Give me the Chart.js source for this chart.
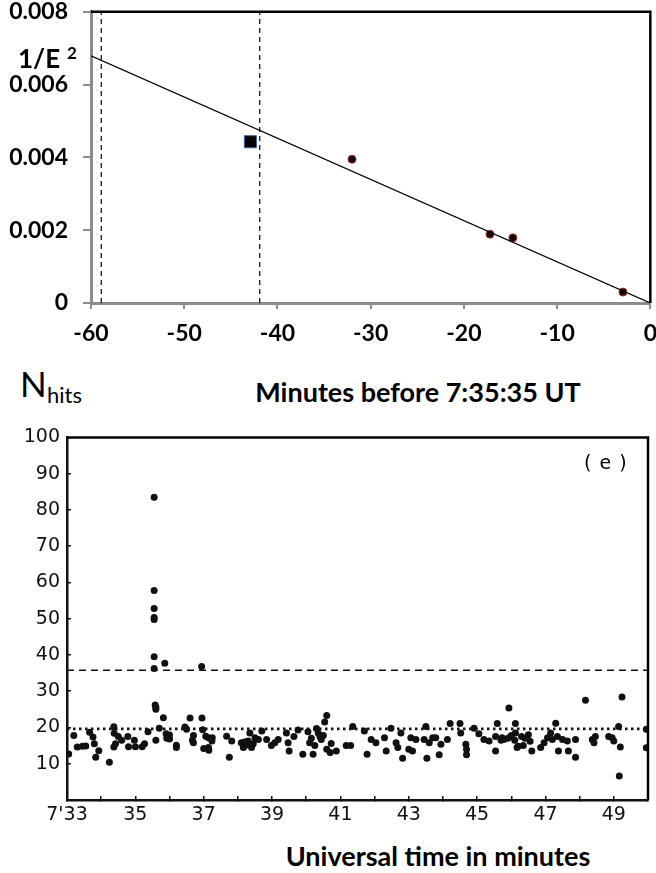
<!DOCTYPE html>
<html>
<head>
<meta charset="utf-8">
<script src="https://cdn.jsdelivr.net/npm/chart.js@4.4.1/dist/chart.umd.min.js"></script>
<style>
  body { margin: 0; background: #fff; width: 656px; height: 873px; position: relative; overflow: hidden; }
  canvas { position: absolute; left: 0; }
  .lbl { position: absolute; color: #000; white-space: nowrap; line-height: 1; }
  .bold { font-family: Lato, "Open Sans", sans-serif; font-weight: 700; }
</style>
</head>
<body>
<canvas id="energyChart" width="668" height="363" style="top:-17px"></canvas>
<canvas id="hitsChart" width="656" height="415" style="top:415px"></canvas>

<div class="lbl bold" style="left:18px; top:45px; font-size:26px;">1/E</div>
<div class="lbl bold" style="left:67px; top:44px; font-size:17px;">2</div>
<div class="lbl bold" style="left:418px; top:378px; font-size:27px; transform:translateX(-50%);">Minutes before 7:35:35 UT</div>
<div class="lbl" style="left:20px; top:366px; font-size:35px; font-family:Lato, sans-serif;">N</div>
<div class="lbl" style="left:47px; top:384px; font-size:22px; font-family:Lato, sans-serif;">hits</div>
<div class="lbl" style="left:584px; top:453px; font-size:19px; font-family:'DejaVu Sans', sans-serif; letter-spacing:1px;">( e )</div>
<div class="lbl bold" style="left:438px; top:842px; font-size:27px; transform:translateX(-50%);">Universal time in minutes</div>

<script>
// top panel: 1/E^2 against minutes before 7:35:35 UT
const minutesBefore = [-32.0, -17.2, -14.75, -2.94];
const invEnergySq = [0.00395, 0.00189, 0.00179, 0.0003];
const squareMinute = [-42.9];
const squareValue = [0.00443];
const fitMinutes = [-60, 0];
const fitValues = [0.00679, 0];
const windowMinutes = [-58.9, -41.9];
const energyXTicks = [-60, -50, -40, -30, -20, -10, 0];
const energyYTicks = [0, 0.002, 0.004, 0.006, 0.008];

// bottom panel: N_hits against universal time (minutes after 7:00)
const hitTimes = [
  33.05, 33.2, 33.3, 33.45, 33.55, 33.66, 33.76, 33.8, 33.84, 33.93,
  34.24, 34.37, 34.38, 34.37, 34.42, 34.5, 34.6, 34.78, 34.8, 34.97,
  35.0, 35.2, 35.27, 35.37, 35.55, 35.55, 35.55, 35.55, 35.55, 35.55,
  35.55, 35.6, 35.6, 35.58, 35.6, 35.7, 35.82, 35.86, 35.9, 35.92,
  36.0, 36.0, 36.2, 36.2, 36.45, 36.5, 36.6, 36.67, 36.7, 36.7,
  36.94, 36.95, 36.97, 37.0, 37.06, 37.15, 37.25,
  37.14, 37.14, 37.24, 37.67, 37.75, 37.82, 38.1, 38.16, 38.2, 38.25,
  38.3, 38.35, 38.4, 38.45, 38.5, 38.6, 38.7, 38.84, 38.98, 39.08,
  39.18, 39.42, 39.47, 39.5, 39.64, 39.76, 39.9, 40.05, 40.1, 40.15,
  40.2, 40.25, 40.3, 40.35, 40.4, 40.44, 40.5, 40.54, 40.6, 40.6,
  40.7, 40.73, 40.88, 41.17, 41.3, 41.36, 41.7, 41.78,
  41.9, 42.04, 42.29, 42.34, 42.48, 42.63, 42.68, 42.77, 42.82, 43.0,
  43.06, 43.11, 43.21, 43.45, 43.5, 43.53, 43.6, 43.7, 43.79, 43.89,
  43.94, 44.13, 44.21, 44.5, 44.52, 44.67, 44.69, 44.69, 44.91, 45.05,
  45.2, 45.35, 45.54, 45.54, 45.59, 45.7, 45.73, 45.78, 45.9, 45.93,
  45.98, 46.0, 46.1, 46.12, 46.12, 46.17, 46.2, 46.3, 46.35, 46.4,
  46.5, 46.55, 46.6, 46.86, 46.96, 47.06, 47.15, 47.2, 47.3, 47.35,
  47.38, 47.5, 47.64, 47.67, 47.88, 47.88, 48.17, 48.37, 48.42, 48.46,
  48.85, 48.95, 49.0, 49.14, 49.16, 49.19, 49.24, 49.95, 49.95
];
const hitCounts = [
  12.7, 17.8, 14.6, 14.8, 14.9, 18.7, 17.4, 15.5, 11.8, 13.6,
  10.4, 20.2, 18.4, 14.6, 15.5, 17.5, 16.5, 17.5, 14.7, 16.5,
  14.7, 14.7, 15.5, 18.8, 83.5, 57.8, 52.8, 50.3, 49.8, 39.5,
  36.3, 25.0, 25.6, 26.2, 16.5, 19.8, 22.7, 37.7, 18.3, 17.0,
  17.9, 16.8, 15.1, 14.5, 20.1, 19.5, 22.6, 16.5, 17.8, 15.8,
  36.8, 22.6, 19.4, 14.2, 17.6, 13.7, 17.2,
  14.5, 17.2, 16.3, 17.6, 11.8, 16.3, 15.8, 14.5, 16.0, 15.2,
  16.3, 18.5, 14.5, 15.5, 17.2, 16.7, 19.0, 16.7, 15.0, 15.8,
  16.7, 18.5, 15.8, 13.5, 17.5, 19.3, 12.6, 18.8, 15.8, 17.0,
  12.6, 15.0, 19.7, 18.5, 17.5, 16.7, 17.8, 21.5, 23.3, 14.0,
  13.1, 15.6, 13.5, 15.0, 15.0, 20.3, 19.0, 12.6,
  16.7, 15.8, 17.2, 13.5, 19.8, 15.8, 14.5, 18.5, 11.5, 14.0,
  17.2, 13.5, 16.7, 16.7, 20.3, 11.5, 15.8, 17.2, 17.2, 12.5,
  15.4, 16.7, 21.1, 21.1, 18.5, 15.4, 14.0, 12.5, 19.8, 18.3,
  16.7, 16.3, 13.5, 17.5, 21.1, 16.5, 17.2, 16.7, 17.0, 25.4,
  17.5, 17.8, 16.5, 21.1, 18.5, 14.5, 14.8, 17.5, 15.0, 17.0,
  18.0, 16.2, 13.5, 14.5, 15.8, 17.2, 18.5, 16.7, 21.2, 17.5,
  13.5, 16.7, 16.3, 13.5, 16.7, 11.8, 27.5, 16.7, 15.8, 17.5,
  17.5, 17.2, 16.3, 20.3, 6.6, 14.6, 28.4, 19.5, 14.4
];
const timeRange = [33, 50];
const dashedLevel = 35.8;
const dottedLevel = 19.6;
const minuteTicks = [33, 34, 35, 36, 37, 38, 39, 40, 41, 42, 43, 44, 45, 46, 47, 48, 49, 50];
const timeTicks = [33, 35, 37, 39, 41, 43, 45, 47, 49];
const hitsTicks = [10, 20, 30, 40, 50, 60, 70, 80, 90, 100];

const toPoints = (xs, ys) => xs.map((x, i) => ({ x: x, y: ys[i] }));
const setTicks = list => scale => { scale.ticks = list.map(v => ({ value: v })); };

// top and right edges of the plot box
const frameEdges = {
  id: 'frameEdges',
  afterDraw(chart, args, opts) {
    const a = chart.chartArea;
    const ctx = chart.ctx;
    ctx.save();
    ctx.strokeStyle = '#000';
    ctx.lineWidth = opts.width;
    ctx.beginPath();
    ctx.moveTo(a.left, a.top);
    ctx.lineTo(a.right, a.top);
    ctx.lineTo(a.right, a.bottom);
    ctx.stroke();
    ctx.restore();
  }
};

const boldFont = { family: 'Lato, "Open Sans", sans-serif', size: 23, weight: 'bold', lineHeight: 1.2 };

new Chart(document.getElementById('energyChart'), {
  type: 'scatter',
  data: {
    datasets: [
      {
        data: toPoints(fitMinutes, fitValues),
        showLine: true, borderColor: '#000', borderWidth: 1.3, pointRadius: 0
      },
      {
        data: toPoints([windowMinutes[0], windowMinutes[0]], [energyYTicks[0], energyYTicks[4]]),
        showLine: true, borderColor: '#000', borderWidth: 1.2, borderDash: [5, 4], pointRadius: 0
      },
      {
        data: toPoints([windowMinutes[1], windowMinutes[1]], [energyYTicks[0], energyYTicks[4]]),
        showLine: true, borderColor: '#000', borderWidth: 1.2, borderDash: [5, 4], pointRadius: 0
      },
      {
        data: toPoints(squareMinute, squareValue),
        pointStyle: 'rect', pointRadius: 8.5, backgroundColor: '#000',
        borderColor: '#3a5f9a', borderWidth: 1
      },
      {
        data: toPoints(minutesBefore, invEnergySq),
        pointRadius: 4, backgroundColor: '#160404', borderColor: '#a83232', borderWidth: 1
      }
    ]
  },
  options: {
    responsive: false,
    animation: false,
    plugins: { legend: { display: false }, tooltip: { enabled: false }, frameEdges: { width: 2.5 } },
    layout: { padding: 0 },
    scales: {
      x: {
        min: -60, max: 0,
        afterBuildTicks: setTicks(energyXTicks),
        afterFit: s => { s.height = 43; },
        grid: { drawOnChartArea: false, color: '#8c8c8c', lineWidth: 2, tickLength: 6 },
        border: { color: '#8c8c8c', width: 3 },
        ticks: { color: '#000', font: boldFont, padding: 11, maxRotation: 0 }
      },
      y: {
        min: 0, max: 0.008,
        afterBuildTicks: setTicks(energyYTicks),
        afterFit: s => { s.width = 91; },
        grid: { drawOnChartArea: false, color: '#8c8c8c', lineWidth: 2, tickLength: 8 },
        border: { color: '#8c8c8c', width: 3 },
        ticks: {
          color: '#000', font: boldFont, padding: 15,
          callback: v => v === 0 ? '0' : v.toFixed(3)
        }
      }
    }
  },
  plugins: [frameEdges]
});

const scanFont = { family: '"DejaVu Sans", sans-serif', size: 19, lineHeight: 1.2 };

new Chart(document.getElementById('hitsChart'), {
  type: 'scatter',
  data: {
    datasets: [
      {
        data: toPoints(timeRange, [dashedLevel, dashedLevel]),
        showLine: true, borderColor: '#111', borderWidth: 1.6, borderDash: [7, 5], pointRadius: 0
      },
      {
        data: toPoints(timeRange, [dottedLevel, dottedLevel]),
        showLine: true, borderColor: '#111', borderWidth: 2.8, borderDash: [2.5, 3.5], pointRadius: 0
      },
      {
        data: toPoints(hitTimes, hitCounts),
        pointRadius: 3.5, backgroundColor: '#111', borderColor: '#111', borderWidth: 0
      }
    ]
  },
  options: {
    responsive: false,
    animation: false,
    plugins: { legend: { display: false }, tooltip: { enabled: false }, frameEdges: { width: 2.5 } },
    layout: { padding: { top: 0, right: 5, bottom: 0, left: 0 } },
    scales: {
      x: {
        min: timeRange[0], max: timeRange[1],
        afterBuildTicks: setTicks(minuteTicks),
        afterFit: s => { s.height = 30; },
        // short marks pointing into the plot
        grid: { drawOnChartArea: false, color: '#111', lineWidth: 1.5, tickLength: -4 },
        border: { color: '#111', width: 2.5 },
        ticks: {
          color: '#111', font: scanFont, padding: 8, maxRotation: 0, autoSkip: false,
          callback: v => v === 33 ? "7'33" : (timeTicks.includes(v) ? String(v) : '')
        }
      },
      y: {
        min: 0, max: 100,
        afterBuildTicks: setTicks(hitsTicks),
        afterFit: s => { s.width = 67; },
        grid: { drawOnChartArea: false, color: '#111', lineWidth: 1.5, tickLength: -4 },
        border: { color: '#111', width: 2.5 },
        ticks: { color: '#111', font: scanFont, padding: 11 }
      }
    }
  },
  plugins: [frameEdges]
});
</script>
</body>
</html>
